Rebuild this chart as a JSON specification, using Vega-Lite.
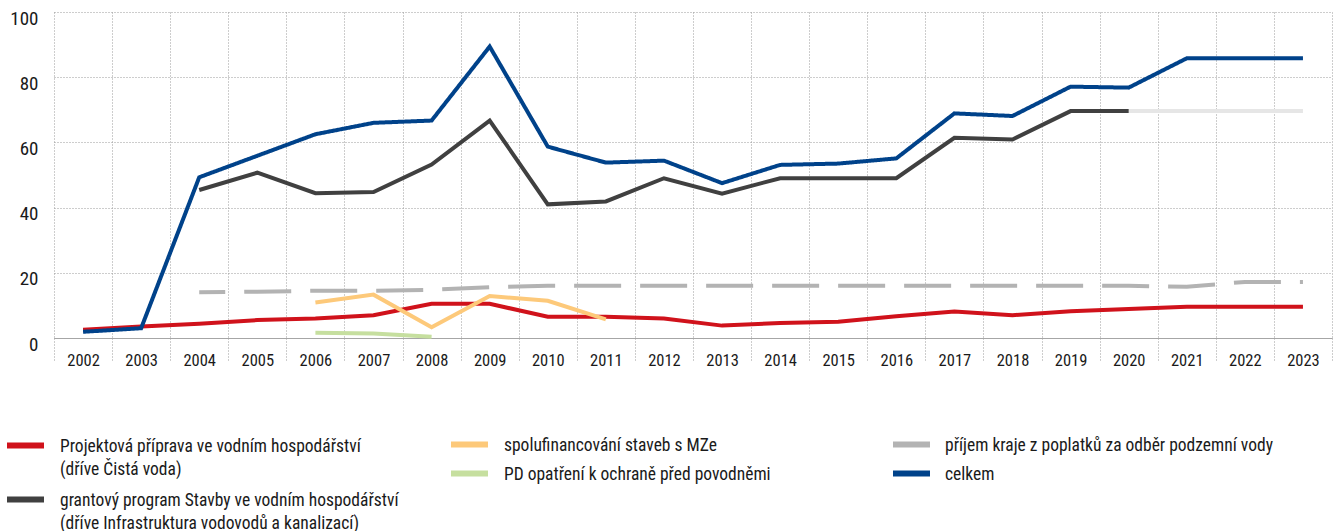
{
  "$schema": "https://vega.github.io/schema/vega-lite/v6.json",
  "autosize": {"type": "none"},
  "width": 1278,
  "height": 326,
  "padding": {"left": 54, "top": 12, "right": 3, "bottom": 193},
  "background": "white",
  "config": {
    "view": {"stroke": null},
    "font": "Roboto Condensed, Liberation Sans, sans-serif",
    "axis": {"labelFont": "Roboto Condensed, Liberation Sans, sans-serif", "labelColor": "#1a1a1a"},
    "legend": {
      "labelFont": "Roboto Condensed, Liberation Sans, sans-serif",
      "labelColor": "#1a1a1a",
      "title": null,
      "orient": "none",
      "direction": "vertical",
      "symbolType": "stroke",
      "symbolSize": 1369,
      "symbolStrokeWidth": 6,
      "labelOffset": 13,
      "labelFontSize": 17.5,
      "labelLimit": 600,
      "labelBaseline": "alphabetic"
    }
  },
  "encoding": {
    "x": {
      "field": "year",
      "type": "ordinal",
      "bandPosition": 0.5,
      "scale": {"type": "band", "paddingInner": 0, "paddingOuter": 0},
      "axis": {
        "title": null,
        "tickBand": "extent",
        "labelAngle": 0,
        "labelFontSize": 16.5,
        "labelPadding": -10,
        "domain": true,
        "domainColor": "#a6a6a6",
        "domainWidth": 1.2,
        "ticks": true,
        "tickSize": 24,
        "tickColor": "#9a9a9a",
        "tickDash": [1, 2],
        "tickWidth": 1,
        "grid": true,
        "gridColor": "#9a9a9a",
        "gridDash": [1, 2],
        "gridWidth": 1
      }
    },
    "y": {
      "field": "value",
      "type": "quantitative",
      "scale": {"domain": [0, 100], "nice": false},
      "axis": {
        "title": null,
        "values": [0, 20, 40, 60, 80, 100],
        "domain": false,
        "ticks": false,
        "labelFontSize": 19,
        "labelPadding": 16,
        "labelOffset": 6,
        "grid": true,
        "gridColor": "#9a9a9a",
        "gridDash": [1, 2],
        "gridWidth": 1
      }
    }
  },
  "resolve": {
    "scale": {"color": "independent", "strokeDash": "independent"},
    "legend": {"color": "independent"}
  },
  "layer": [
    {
      "data": {"values": [
        {"year": "2020", "value": 69.6},
        {"year": "2021", "value": 69.6},
        {"year": "2022", "value": 69.6},
        {"year": "2023", "value": 69.6}
      ]},
      "mark": {"type": "line", "color": "#e6e6e6", "strokeWidth": 4}
    },
    {
      "data": {"values": [
        {"year": "2002", "series": "Projektová příprava ve vodním hospodářství|(dříve Čistá voda)", "value": 2.5},
        {"year": "2003", "series": "Projektová příprava ve vodním hospodářství|(dříve Čistá voda)", "value": 3.5},
        {"year": "2004", "series": "Projektová příprava ve vodním hospodářství|(dříve Čistá voda)", "value": 4.4},
        {"year": "2005", "series": "Projektová příprava ve vodním hospodářství|(dříve Čistá voda)", "value": 5.5},
        {"year": "2006", "series": "Projektová příprava ve vodním hospodářství|(dříve Čistá voda)", "value": 6.0},
        {"year": "2007", "series": "Projektová příprava ve vodním hospodářství|(dříve Čistá voda)", "value": 7.0},
        {"year": "2008", "series": "Projektová příprava ve vodním hospodářství|(dříve Čistá voda)", "value": 10.5},
        {"year": "2009", "series": "Projektová příprava ve vodním hospodářství|(dříve Čistá voda)", "value": 10.5},
        {"year": "2010", "series": "Projektová příprava ve vodním hospodářství|(dříve Čistá voda)", "value": 6.5},
        {"year": "2011", "series": "Projektová příprava ve vodním hospodářství|(dříve Čistá voda)", "value": 6.5},
        {"year": "2012", "series": "Projektová příprava ve vodním hospodářství|(dříve Čistá voda)", "value": 6.0},
        {"year": "2013", "series": "Projektová příprava ve vodním hospodářství|(dříve Čistá voda)", "value": 3.8},
        {"year": "2014", "series": "Projektová příprava ve vodním hospodářství|(dříve Čistá voda)", "value": 4.6},
        {"year": "2015", "series": "Projektová příprava ve vodním hospodářství|(dříve Čistá voda)", "value": 5.0},
        {"year": "2016", "series": "Projektová příprava ve vodním hospodářství|(dříve Čistá voda)", "value": 6.7},
        {"year": "2017", "series": "Projektová příprava ve vodním hospodářství|(dříve Čistá voda)", "value": 8.1},
        {"year": "2018", "series": "Projektová příprava ve vodním hospodářství|(dříve Čistá voda)", "value": 7.0},
        {"year": "2019", "series": "Projektová příprava ve vodním hospodářství|(dříve Čistá voda)", "value": 8.2},
        {"year": "2020", "series": "Projektová příprava ve vodním hospodářství|(dříve Čistá voda)", "value": 8.9},
        {"year": "2021", "series": "Projektová příprava ve vodním hospodářství|(dříve Čistá voda)", "value": 9.6},
        {"year": "2022", "series": "Projektová příprava ve vodním hospodářství|(dříve Čistá voda)", "value": 9.6},
        {"year": "2023", "series": "Projektová příprava ve vodním hospodářství|(dříve Čistá voda)", "value": 9.6},
        {"year": "2004", "series": "grantový program Stavby ve vodním hospodářství|(dříve Infrastruktura vodovodů a kanalizací)", "value": 45.4},
        {"year": "2005", "series": "grantový program Stavby ve vodním hospodářství|(dříve Infrastruktura vodovodů a kanalizací)", "value": 50.7},
        {"year": "2006", "series": "grantový program Stavby ve vodním hospodářství|(dříve Infrastruktura vodovodů a kanalizací)", "value": 44.4},
        {"year": "2007", "series": "grantový program Stavby ve vodním hospodářství|(dříve Infrastruktura vodovodů a kanalizací)", "value": 44.8},
        {"year": "2008", "series": "grantový program Stavby ve vodním hospodářství|(dříve Infrastruktura vodovodů a kanalizací)", "value": 53.2},
        {"year": "2009", "series": "grantový program Stavby ve vodním hospodářství|(dříve Infrastruktura vodovodů a kanalizací)", "value": 66.7},
        {"year": "2010", "series": "grantový program Stavby ve vodním hospodářství|(dříve Infrastruktura vodovodů a kanalizací)", "value": 41.0},
        {"year": "2011", "series": "grantový program Stavby ve vodním hospodářství|(dříve Infrastruktura vodovodů a kanalizací)", "value": 41.9},
        {"year": "2012", "series": "grantový program Stavby ve vodním hospodářství|(dříve Infrastruktura vodovodů a kanalizací)", "value": 49.0},
        {"year": "2013", "series": "grantový program Stavby ve vodním hospodářství|(dříve Infrastruktura vodovodů a kanalizací)", "value": 44.3},
        {"year": "2014", "series": "grantový program Stavby ve vodním hospodářství|(dříve Infrastruktura vodovodů a kanalizací)", "value": 49.0},
        {"year": "2015", "series": "grantový program Stavby ve vodním hospodářství|(dříve Infrastruktura vodovodů a kanalizací)", "value": 49.0},
        {"year": "2016", "series": "grantový program Stavby ve vodním hospodářství|(dříve Infrastruktura vodovodů a kanalizací)", "value": 49.0},
        {"year": "2017", "series": "grantový program Stavby ve vodním hospodářství|(dříve Infrastruktura vodovodů a kanalizací)", "value": 61.4},
        {"year": "2018", "series": "grantový program Stavby ve vodním hospodářství|(dříve Infrastruktura vodovodů a kanalizací)", "value": 60.9},
        {"year": "2019", "series": "grantový program Stavby ve vodním hospodářství|(dříve Infrastruktura vodovodů a kanalizací)", "value": 69.6},
        {"year": "2020", "series": "grantový program Stavby ve vodním hospodářství|(dříve Infrastruktura vodovodů a kanalizací)", "value": 69.6}
      ]},
      "mark": {"type": "line", "strokeWidth": 4},
      "encoding": {
        "color": {
          "field": "series",
          "type": "nominal",
          "scale": {
            "domain": [
              "Projektová příprava ve vodním hospodářství|(dříve Čistá voda)",
              "grantový program Stavby ve vodním hospodářství|(dříve Infrastruktura vodovodů a kanalizací)"
            ],
            "range": ["#d0121b", "#404040"]
          },
          "legend": {
            "legendX": -50,
            "legendY": 412,
            "rowPadding": 0,
            "labelExpr": "split(datum.label, '|')",
            "encode": {
              "labels": {"update": {"dy": {"value": 6}, "lineHeight": {"value": 23}}}
            }
          }
        }
      }
    },
    {
      "data": {"values": [
        {"year": "2006", "series": "PD opatření k ochraně před povodněmi", "value": 1.6},
        {"year": "2007", "series": "PD opatření k ochraně před povodněmi", "value": 1.4},
        {"year": "2008", "series": "PD opatření k ochraně před povodněmi", "value": 0.4},
        {"year": "2006", "series": "spolufinancování staveb s MZe", "value": 10.9},
        {"year": "2007", "series": "spolufinancování staveb s MZe", "value": 13.3},
        {"year": "2008", "series": "spolufinancování staveb s MZe", "value": 3.3},
        {"year": "2009", "series": "spolufinancování staveb s MZe", "value": 12.9},
        {"year": "2010", "series": "spolufinancování staveb s MZe", "value": 11.4},
        {"year": "2011", "series": "spolufinancování staveb s MZe", "value": 5.7}
      ]},
      "mark": {"type": "line", "strokeWidth": 4},
      "encoding": {
        "color": {
          "field": "series",
          "type": "nominal",
          "scale": {
            "domain": ["spolufinancování staveb s MZe", "PD opatření k ochraně před povodněmi"],
            "range": ["#fdc97a", "#c6df9f"]
          },
          "legend": {
            "legendX": 403,
            "legendY": 420,
            "rowPadding": 4,
            "labelOffset": 22,
            "symbolType": "M-2,0H2",
            "symbolSize": 342,
            "encode": {
              "labels": {"update": {"dy": {"value": 6}}}
            }
          }
        }
      }
    },
    {
      "data": {"values": [
        {"year": "2004", "series": "příjem kraje z poplatků za odběr podzemní vody", "value": 14.0},
        {"year": "2005", "series": "příjem kraje z poplatků za odběr podzemní vody", "value": 14.2},
        {"year": "2006", "series": "příjem kraje z poplatků za odběr podzemní vody", "value": 14.5},
        {"year": "2007", "series": "příjem kraje z poplatků za odběr podzemní vody", "value": 14.5},
        {"year": "2008", "series": "příjem kraje z poplatků za odběr podzemní vody", "value": 14.8},
        {"year": "2009", "series": "příjem kraje z poplatků za odběr podzemní vody", "value": 15.6},
        {"year": "2010", "series": "příjem kraje z poplatků za odběr podzemní vody", "value": 16.0},
        {"year": "2011", "series": "příjem kraje z poplatků za odběr podzemní vody", "value": 16.0},
        {"year": "2012", "series": "příjem kraje z poplatků za odběr podzemní vody", "value": 16.0},
        {"year": "2013", "series": "příjem kraje z poplatků za odběr podzemní vody", "value": 16.0},
        {"year": "2014", "series": "příjem kraje z poplatků za odběr podzemní vody", "value": 16.0},
        {"year": "2015", "series": "příjem kraje z poplatků za odběr podzemní vody", "value": 16.0},
        {"year": "2016", "series": "příjem kraje z poplatků za odběr podzemní vody", "value": 16.0},
        {"year": "2017", "series": "příjem kraje z poplatků za odběr podzemní vody", "value": 16.0},
        {"year": "2018", "series": "příjem kraje z poplatků za odběr podzemní vody", "value": 16.0},
        {"year": "2019", "series": "příjem kraje z poplatků za odběr podzemní vody", "value": 16.0},
        {"year": "2020", "series": "příjem kraje z poplatků za odběr podzemní vody", "value": 16.0},
        {"year": "2021", "series": "příjem kraje z poplatků za odběr podzemní vody", "value": 15.7},
        {"year": "2022", "series": "příjem kraje z poplatků za odběr podzemní vody", "value": 17.2},
        {"year": "2023", "series": "příjem kraje z poplatků za odběr podzemní vody", "value": 17.2},
        {"year": "2002", "series": "celkem", "value": 1.9},
        {"year": "2003", "series": "celkem", "value": 3.0},
        {"year": "2004", "series": "celkem", "value": 49.3},
        {"year": "2005", "series": "celkem", "value": 55.9},
        {"year": "2006", "series": "celkem", "value": 62.5},
        {"year": "2007", "series": "celkem", "value": 66.0},
        {"year": "2008", "series": "celkem", "value": 66.7},
        {"year": "2009", "series": "celkem", "value": 89.4},
        {"year": "2010", "series": "celkem", "value": 58.7},
        {"year": "2011", "series": "celkem", "value": 53.8},
        {"year": "2012", "series": "celkem", "value": 54.4},
        {"year": "2013", "series": "celkem", "value": 47.5},
        {"year": "2014", "series": "celkem", "value": 53.1},
        {"year": "2015", "series": "celkem", "value": 53.5},
        {"year": "2016", "series": "celkem", "value": 55.1},
        {"year": "2017", "series": "celkem", "value": 68.9},
        {"year": "2018", "series": "celkem", "value": 68.1},
        {"year": "2019", "series": "celkem", "value": 77.1},
        {"year": "2020", "series": "celkem", "value": 76.8},
        {"year": "2021", "series": "celkem", "value": 85.8},
        {"year": "2022", "series": "celkem", "value": 85.8},
        {"year": "2023", "series": "celkem", "value": 85.8}
      ]},
      "mark": {"type": "line", "strokeWidth": 4, "strokeDashOffset": 21},
      "encoding": {
        "color": {
          "field": "series",
          "type": "nominal",
          "scale": {
            "domain": ["příjem kraje z poplatků za odběr podzemní vody", "celkem"],
            "range": ["#b3b3b3", "#00428a"]
          },
          "legend": {
            "legendX": 845,
            "legendY": 420,
            "rowPadding": 4,
            "labelOffset": 21,
            "symbolType": "M-2,0H2",
            "symbolSize": 342,
            "encode": {
              "labels": {"update": {"dy": {"value": 6}}},
              "symbols": {"update": {"strokeDash": {"signal": "datum.value == 'celkem' ? [1, 0] : [15, 10]"}}}
            }
          }
        },
        "strokeDash": {
          "field": "series",
          "type": "nominal",
          "scale": {
            "domain": ["příjem kraje z poplatků za odběr podzemní vody", "celkem"],
            "range": [[47, 19], [1, 0]]
          },
          "legend": null
        }
      }
    }
  ]
}
